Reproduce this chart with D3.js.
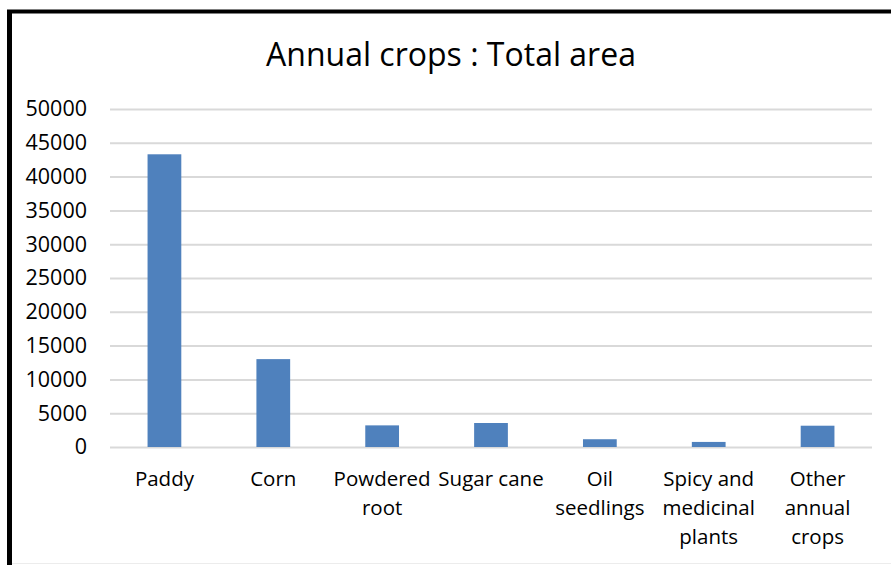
<!DOCTYPE html>
<html>
<head>
<meta charset="utf-8">
<script src="https://cdn.jsdelivr.net/npm/d3@7/dist/d3.min.js"></script>
<style>
  html, body { margin: 0; padding: 0; background: #fff; }
  svg { display: block; }
  text { font-family: "Open Sans", sans-serif; fill: #000; }
</style>
</head>
<body>
<svg id="chart" width="891" height="565"></svg>
<script>
// Annual crops: total planted area by crop group
const categories = [
  ["Paddy"],
  ["Corn"],
  ["Powdered", "root"],
  ["Sugar cane"],
  ["Oil", "seedlings"],
  ["Spicy and", "medicinal", "plants"],
  ["Other", "annual", "crops"]
];
const areaValues = [43300, 13000, 3200, 3550, 1150, 750, 3150];
const yTicks = [0, 5000, 10000, 15000, 20000, 25000, 30000, 35000, 40000, 45000, 50000];
const titleText = "Annual crops : Total area";

const svg = d3.select("#chart");
const W = 891, H = 565;
const plot = { left: 110, right: 872, top: 109, bottom: 447 };

// frame: heavy black rule on top and left, faint rule at the bottom
svg.append("rect").attr("x", 0).attr("y", 0).attr("width", W).attr("height", H).attr("fill", "#fff");
svg.append("line").attr("x1", 9.5).attr("x2", 9.5).attr("y1", 10).attr("y2", H)
  .attr("stroke", "#000").attr("stroke-width", 5);
svg.append("line").attr("x1", 7).attr("x2", W).attr("y1", 11.5).attr("y2", 11.5)
  .attr("stroke", "#000").attr("stroke-width", 4);
svg.append("line").attr("x1", 12).attr("x2", W).attr("y1", 563.5).attr("y2", 563.5)
  .attr("stroke", "#ececec").attr("stroke-width", 1);

svg.append("text")
  .attr("x", 451).attr("y", 66)
  .attr("text-anchor", "middle")
  .attr("font-size", 32)
  .text(titleText);

const x = d3.scaleBand()
  .domain(categories.map((d, i) => i))
  .range([plot.left, plot.right])
  .padding(0);

const y = d3.scaleLinear()
  .domain([0, 50000])
  .range([plot.bottom, plot.top]);

// horizontal gridlines with tick labels on the left
const yAxis = svg.append("g")
  .attr("transform", `translate(${plot.left},0)`)
  .call(d3.axisLeft(y).tickValues(yTicks).tickSize(-(plot.right - plot.left)).tickPadding(23).tickFormat(d3.format("d")));
yAxis.select(".domain").remove();
yAxis.selectAll(".tick line").attr("stroke", "#d9d9d9").attr("stroke-width", 2);
yAxis.selectAll(".tick text")
  .attr("font-size", 21.5)
  .attr("font-family", "'Open Sans', sans-serif")
  .attr("fill", "#000");

// bars
const barW = x.bandwidth() * 0.31;
svg.append("g").selectAll("rect")
  .data(areaValues)
  .join("rect")
  .attr("x", (d, i) => x(i) + x.bandwidth() / 2 - barW / 2)
  .attr("y", d => y(d))
  .attr("width", barW)
  .attr("height", d => y(0) - y(d))
  .attr("fill", "#4f81bd");

// category labels, wrapped over several lines
const labels = svg.append("g").selectAll("text")
  .data(categories)
  .join("text")
  .attr("text-anchor", "middle")
  .attr("font-size", 20.5)
  .attr("x", (d, i) => x(i) + x.bandwidth() / 2)
  .attr("y", 486);
labels.selectAll("tspan")
  .data(d => d)
  .join("tspan")
  .attr("x", function () { return this.parentNode.getAttribute("x"); })
  .attr("dy", (d, j) => j === 0 ? 0 : 29)
  .text(d => d);
</script>
</body>
</html>
